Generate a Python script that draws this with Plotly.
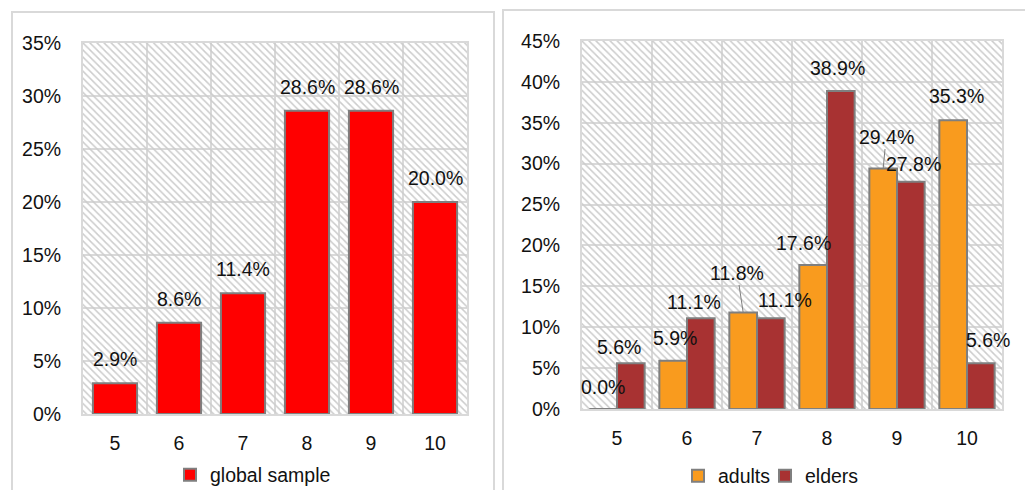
import plotly.graph_objects as go

# ---------------- data ----------------
categories = [5, 6, 7, 8, 9, 10]
tick_labels = ["5", "6", "7", "8", "9", "10"]
global_sample = [0.029, 0.086, 0.114, 0.286, 0.286, 0.200]
adults = [0.000, 0.059, 0.118, 0.176, 0.294, 0.353]
elders = [0.056, 0.111, 0.111, 0.389, 0.278, 0.056]

# ---------------- styles ----------------
W, H = 1025, 490
FONT = "Liberation Sans, Arial, sans-serif"
FS = 19.5
GRID = "#d9d9d9"
OUTLINE = "#7f7f7f"
RED = "#ff0000"
ORANGE = "#f99b1e"
DARKRED = "#a83232"
BAR_W_LEFT = 0.69
BAR_W_RIGHT = 0.395

# label pixel offsets (style): (dx, dy above bar top, leader?)
adult_lbl = [(0, 22, False), (2, 23, False), (-6, 40, True), (-10, 22, False), (3, 32, True), (3, 24, False)]
elder_lbl = [(-12, 16, False), (-7, 16, False), (14, 18, False), (-3, 23, False), (3, 18, False), (7, 23, False)]


def px_x(p):
    return p / W


def px_y(p):
    return 1 - p / H


x_lo = categories[0] - 0.5
x_hi = categories[-1] + 0.5
x_mid = (x_lo + x_hi) / 2
n_cat = len(categories)
LEFT_MAX = 0.35
RIGHT_MAX = 0.45

fig = go.Figure()


def hatch(xa, ya, ymax):
    return go.Bar(
        x=[x_mid], y=[ymax], width=[n_cat], base=0,
        xaxis=xa, yaxis=ya,
        marker=dict(color="#cccccc", line=dict(width=0),
                    pattern=dict(shape="\\", fgcolor="#cccccc", bgcolor="rgba(0,0,0,0)",
                                 size=5, solidity=0.3, fillmode="replace")),
        hoverinfo="skip", showlegend=False,
    )


# left panel
fig.add_trace(hatch("x", "y", LEFT_MAX))
fig.add_trace(go.Bar(
    x=categories, y=global_sample, width=BAR_W_LEFT, name="global sample",
    marker=dict(color=RED, line=dict(color=OUTLINE, width=2)),
    xaxis="x", yaxis="y", legend="legend",
))

# right panel
fig.add_trace(hatch("x2", "y2", RIGHT_MAX))
fig.add_trace(go.Bar(
    x=categories, y=adults, width=BAR_W_RIGHT, offset=-BAR_W_RIGHT, name="adults",
    marker=dict(color=ORANGE, line=dict(color=OUTLINE, width=2)),
    xaxis="x2", yaxis="y2", legend="legend2",
))
fig.add_trace(go.Bar(
    x=categories, y=elders, width=BAR_W_RIGHT, offset=0, name="elders",
    marker=dict(color=DARKRED, line=dict(color=OUTLINE, width=2)),
    xaxis="x2", yaxis="y2", legend="legend3",
))

annotations = []
for c, v in zip(categories, global_sample):
    annotations.append(dict(x=c, y=v, xref="x", yref="y", text=f"{v*100:.1f}%",
                            showarrow=False, yshift=24,
                            font=dict(family=FONT, size=FS, color="#111")))

for series, lbls, off in ((adults, adult_lbl, -BAR_W_RIGHT / 2), (elders, elder_lbl, BAR_W_RIGHT / 2)):
    for c, v, (dx, dy, leader) in zip(categories, series, lbls):
        a = dict(x=c + off, y=v, xref="x2", yref="y2", text=f"{v*100:.1f}%",
                 font=dict(family=FONT, size=FS, color="#111"))
        if leader:
            a.update(showarrow=True, ax=dx, ay=-dy, arrowhead=0, arrowwidth=1,
                     arrowcolor=OUTLINE, standoff=0)
        else:
            a.update(showarrow=False, xshift=dx, yshift=dy)
        annotations.append(a)

axis_common = dict(showline=True, mirror=True, linecolor=GRID, linewidth=2, automargin=False,
                   tickfont=dict(family=FONT, size=FS, color="#111"), zeroline=False)

xaxis_common = dict(
    axis_common, range=[x_lo, x_hi], tickmode="array", tickvals=categories,
    ticktext=tick_labels, showgrid=False, ticks="outside", ticklen=11,
    tickcolor="rgba(0,0,0,0)",
    minor=dict(tick0=x_lo, dtick=1, showgrid=True, gridcolor=GRID, gridwidth=2, ticks=""),
)

legend_common = dict(orientation="h", xanchor="left", yanchor="middle",
                     font=dict(family=FONT, size=FS, color="#111"), bgcolor="rgba(0,0,0,0)")

fig.update_layout(
    template="none",
    width=W, height=H,
    margin=dict(l=0, r=0, t=0, b=0, autoexpand=False),
    paper_bgcolor="white", plot_bgcolor="white",
    barmode="overlay",
    font=dict(family=FONT, size=FS, color="#111"),
    xaxis=dict(xaxis_common, domain=[px_x(83), px_x(467)], anchor="y"),
    yaxis=dict(axis_common, domain=[px_y(414), px_y(43)], anchor="x",
               range=[0, LEFT_MAX], dtick=0.05, tickformat=".0%",
               showgrid=True, gridcolor=GRID, gridwidth=2,
               ticks="outside", ticklen=16, tickcolor="rgba(0,0,0,0)"),
    xaxis2=dict(xaxis_common, domain=[px_x(582), px_x(1002)], anchor="y2"),
    yaxis2=dict(axis_common, domain=[px_y(409), px_y(41)], anchor="x2",
                range=[0, RIGHT_MAX], dtick=0.05, tickformat=".0%",
                showgrid=True, gridcolor=GRID, gridwidth=2,
                ticks="outside", ticklen=16, tickcolor="rgba(0,0,0,0)"),
    legend=dict(legend_common, x=px_x(170), y=px_y(475)),
    legend2=dict(legend_common, x=px_x(678), y=px_y(476)),
    legend3=dict(legend_common, x=px_x(765), y=px_y(476)),
    annotations=annotations,
    shapes=[
        dict(type="rect", xref="paper", yref="paper", x0=px_x(12), x1=px_x(494),
             y0=-0.2, y1=px_y(12), line=dict(color=GRID, width=2), layer="below"),
        dict(type="rect", xref="paper", yref="paper", x0=px_x(503), x1=1.2,
             y0=-0.2, y1=px_y(10), line=dict(color=GRID, width=2), layer="below"),
    ],
    showlegend=True,
)

fig.write_html("out.html")
